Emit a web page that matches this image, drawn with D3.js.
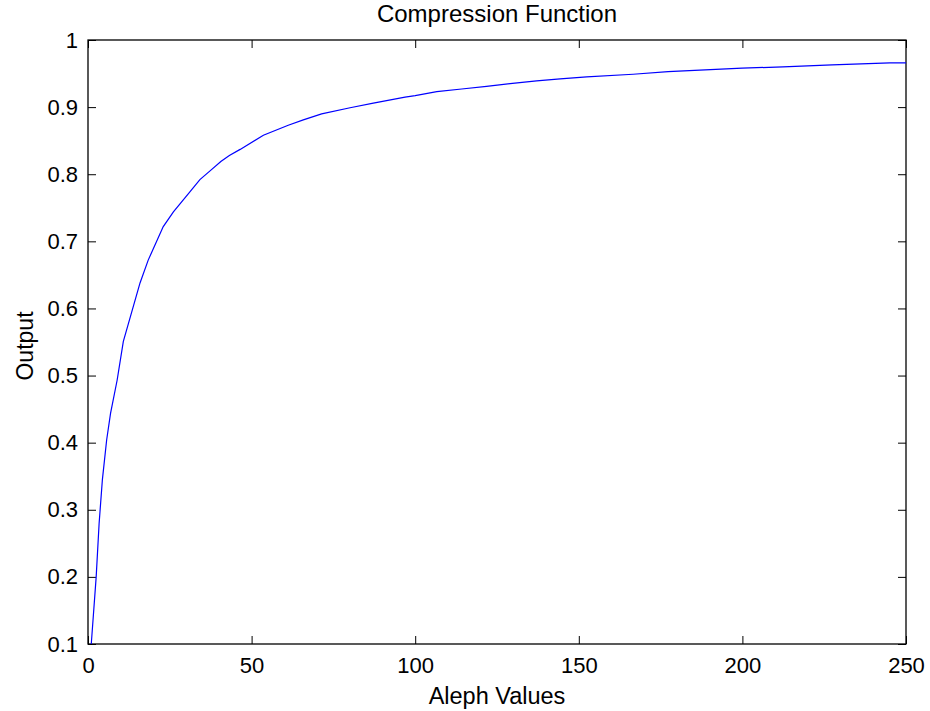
<!DOCTYPE html>
<html>
<head>
<meta charset="utf-8">
<script src="https://cdn.jsdelivr.net/npm/d3@7/dist/d3.min.js"></script>
<style>
  body { margin: 0; background: #fff; }
  text { font-family: "Liberation Sans", Arial, sans-serif; fill: #000; }
</style>
</head>
<body>
<div id="chart-area"></div>
<script>
// Compression function - output vs aleph values

// values
var alephValues = [1, 2.5, 3.4, 4.4, 5.7, 6.9, 8.9, 10.8, 15.9, 18.4, 23, 26.1, 31.2, 34.2,
  37.3, 40.6, 43.2, 46.5, 53.6, 61.2, 65.8, 71.4, 80.1, 87.2, 96.9, 100, 106.6, 114.2,
  121.8, 129, 137.1, 144.3, 152.4, 166.6, 177.3, 187, 199.9, 212.4, 227.4, 245.1, 250];
var outputValues = [0.1, 0.2, 0.28, 0.345, 0.404, 0.444, 0.493, 0.551, 0.638, 0.672, 0.722,
  0.744, 0.774, 0.792, 0.805, 0.819, 0.828, 0.837, 0.858, 0.873, 0.881, 0.89, 0.899, 0.906,
  0.915, 0.917, 0.923, 0.927, 0.931, 0.935, 0.939, 0.942, 0.945, 0.949, 0.953, 0.955,
  0.958, 0.96, 0.963, 0.966, 0.966];
var xTicks = [0, 50, 100, 150, 200, 250];
var yTicks = [0.1, 0.2, 0.3, 0.4, 0.5, 0.6, 0.7, 0.8, 0.9, 1];

var margin = { left: 88, right: 24, top: 40, bottom: 67 };
var width = 930 - margin.left - margin.right;
var height = 711 - margin.top - margin.bottom;

var svg = d3.select("#chart-area")
  .append("svg")
  .attr("width", 930)
  .attr("height", 711);

var g = svg.append("g")
  .attr("transform", "translate(" + margin.left + ", " + margin.top + ")");

// Scales
var x = d3.scaleLinear().domain([0, 250]).range([0, width]);
var y = d3.scaleLinear().domain([0.1, 1]).range([height, 0]);

var fmtY = d => d === 1 ? "1" : d3.format(".1f")(d);

// Axes, ticks point inwards like matlab
var xAxisCall = d3.axisBottom(x).tickValues(xTicks).tickSizeInner(-8).tickSizeOuter(0).tickPadding(13);
var yAxisCall = d3.axisLeft(y).tickValues(yTicks).tickFormat(fmtY).tickSizeInner(-8).tickSizeOuter(0).tickPadding(10);
var xTopCall = d3.axisTop(x).tickValues(xTicks).tickFormat("").tickSizeInner(-8).tickSizeOuter(0);
var yRightCall = d3.axisRight(y).tickValues(yTicks).tickFormat("").tickSizeInner(-8).tickSizeOuter(0);

g.append("g").attr("class", "x axis")
  .attr("transform", "translate(0," + height + ")")
  .call(xAxisCall);
g.append("g").attr("class", "y axis").call(yAxisCall);
g.append("g").attr("class", "x axis top").call(xTopCall);
g.append("g").attr("class", "y axis right")
  .attr("transform", "translate(" + width + ",0)")
  .call(yRightCall);

g.selectAll(".axis .domain").remove();
g.selectAll(".axis line").attr("stroke", "#000").attr("stroke-width", 1);
g.selectAll(".axis text")
  .attr("font-size", "22px")
  .attr("font-family", "Liberation Sans, Arial, sans-serif")
  .attr("fill", "#000");

// Box
g.append("rect")
  .attr("x", 0)
  .attr("y", 0)
  .attr("width", width)
  .attr("height", height)
  .attr("fill", "none")
  .attr("stroke", "#000")
  .attr("stroke-width", 1.3);

// Line
var line = d3.line()
  .x((d, i) => x(alephValues[i]))
  .y(d => y(d));

g.append("path")
  .attr("class", "line")
  .attr("fill", "none")
  .attr("stroke", "#0000ff")
  .attr("stroke-width", 1.2)
  .attr("d", line(outputValues));

// Labels
g.append("text")
  .attr("x", width / 2)
  .attr("y", -18)
  .attr("font-size", "24px")
  .attr("text-anchor", "middle")
  .text("Compression Function");

g.append("text")
  .attr("x", width / 2)
  .attr("y", height + 60)
  .attr("font-size", "23.5px")
  .attr("text-anchor", "middle")
  .text("Aleph Values");

g.append("text")
  .attr("transform", "rotate(-90)")
  .attr("x", -height / 2 - 4)
  .attr("y", -55)
  .attr("font-size", "23px")
  .attr("text-anchor", "middle")
  .text("Output");
</script>
</body>
</html>
